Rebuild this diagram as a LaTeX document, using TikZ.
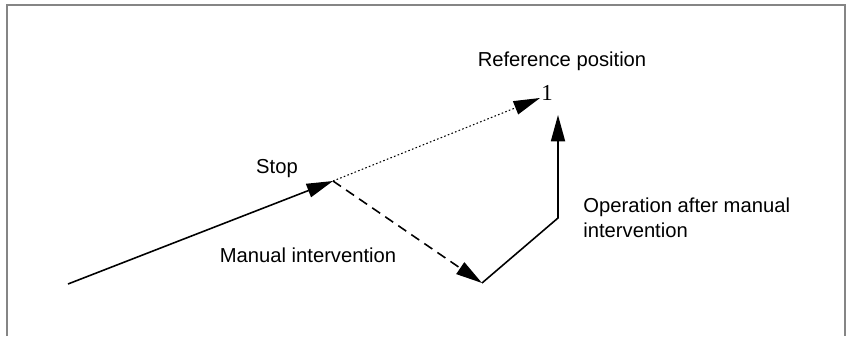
\documentclass[tikz,border=0pt]{standalone}
\usepackage{fontspec}
\setmainfont{Liberation Sans}
\newfontfamily\digitfont{Liberation Serif}
\usetikzlibrary{arrows.meta}
\definecolor{FrameGray}{HTML}{858585}
\tikzset{
  pathline/.style={line width=0.9pt,-{Triangle[length=15pt,width=8pt]}},
  label/.style={font=\fontsize{11.5}{14.2}\selectfont,inner sep=0pt}
}
\begin{document}
\begin{tikzpicture}[x=1cm,y=1cm]
\path[use as bounding box] (0,0) rectangle (16.94,6.72);
\draw[FrameGray,line width=1.2pt] (0.14,0) -- (0.14,6.62) -- (16.90,6.62) -- (16.90,0);
% path points
\coordinate (start) at (1.36,1.04);
\coordinate (stop) at (6.66,3.10);
\coordinate (refpos) at (10.80,4.76);
\coordinate (manend) at (9.64,1.06);
\coordinate (corner) at (11.16,2.36);
\coordinate (uptip) at (11.16,4.42);
% labels
\node[label,anchor=base] (reflabel) at (11.24,5.38) {Reference position};
\node[inner sep=0pt,font=\digitfont\fontsize{13}{15}\selectfont] (refmark) at (10.94,4.86) {1};
\node[label,anchor=base] (stoplabel) at (5.54,3.26) {Stop};
\node[label,anchor=base] (manlabel) at (6.16,1.48) {Manual intervention};
\node[label,anchor=north west,align=left] (oplabel) at (11.66,2.77) {Operation after manual\\intervention};
% movements
\draw[pathline] (start) -- (stop);
\draw[pathline,line width=0.6pt,dash pattern=on 0.9pt off 1.3pt] (stop) -- (refpos);
\draw[pathline,dash pattern=on 5.5pt off 3.5pt] (stop) -- (manend);
\draw[pathline] (manend) -- (corner) -- (uptip);
\end{tikzpicture}
\end{document}
